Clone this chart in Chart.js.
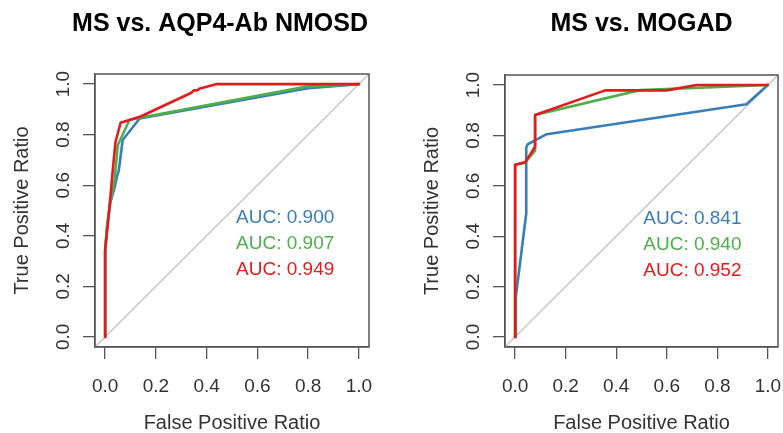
<!DOCTYPE html>
<html><head><meta charset="utf-8">
<script src="https://cdn.jsdelivr.net/npm/chart.js@4.4.1/dist/chart.umd.min.js"></script>
<style>
html,body{margin:0;padding:0;background:#fff;}
#wrap{position:relative;width:783px;height:433px;overflow:hidden;background:#fff;}
canvas{position:absolute;top:0;left:0;}
</style></head><body>
<div id="wrap">
<div style="position:absolute;left:0;top:0;width:440px;height:433px"><canvas id="a" width="440" height="433"></canvas></div>
<div style="position:absolute;left:392px;top:0;width:415px;height:433px"><canvas id="b" width="415" height="433"></canvas></div>
</div>
<script>
// ---- text ----
const panelTitles = ["MS vs. AQP4-Ab NMOSD", "MS vs. MOGAD"];
const xAxisTitle = "False Positive Ratio";
const yAxisTitle = "True Positive Ratio";
const tickValues = [0, 0.2, 0.4, 0.6, 0.8, 1.0];
const tickLabels = ["0.0", "0.2", "0.4", "0.6", "0.8", "1.0"];
const axisRange = [-0.04, 1.04];
const diagonalLine = [-0.04, 1.04];

// ---- series order: blue, green, red ----
const seriesColors = ["#377EB8", "#4DAF4A", "#E41A1C"];

// MS vs. AQP4-Ab NMOSD
const aqp4BlueFpr  = [0, 0, 0.008, 0.02, 0.037, 0.045, 0.054, 0.069, 0.136, 0.8, 1];
const aqp4BlueTpr  = [0, 0.34, 0.44, 0.53, 0.59, 0.627, 0.66, 0.779, 0.864, 0.984, 1];
const aqp4GreenFpr = [0, 0, 0.008, 0.02, 0.037, 0.05, 0.096, 0.142, 0.794, 1];
const aqp4GreenTpr = [0, 0.34, 0.44, 0.53, 0.62, 0.759, 0.858, 0.868, 0.99, 1];
const aqp4RedFpr   = [0, 0, 0.012, 0.024, 0.03, 0.041, 0.061, 0.142, 0.34, 0.35, 0.362, 0.374, 0.40, 0.44, 1];
const aqp4RedTpr   = [0, 0.344, 0.46, 0.59, 0.66, 0.772, 0.847, 0.873, 0.966, 0.976, 0.975, 0.983, 0.99, 1, 1];
const aqp4Auc = ["0.900", "0.907", "0.949"];

// MS vs. MOGAD
const mogBlueFpr  = [0, 0.003, 0.044, 0.044, 0.05, 0.125, 0.915, 1];
const mogBlueTpr  = [0, 0.16, 0.49, 0.752, 0.765, 0.805, 0.924, 1];
const mogGreenFpr = [0, 0, 0.04, 0.079, 0.079, 0.494, 1];
const mogGreenTpr = [0, 0.684, 0.693, 0.74, 0.881, 0.98, 1];
const mogRedFpr   = [0, 0, 0.04, 0.079, 0.079, 0.356, 0.6, 0.718, 1];
const mogRedTpr   = [0, 0.684, 0.693, 0.755, 0.881, 0.979, 0.979, 1, 1];
const mogAuc = ["0.841", "0.940", "0.952"];

const FONT = '"Liberation Sans", Arial, Helvetica, sans-serif';
Chart.defaults.font.family = FONT;

const pts = (xs, ys) => xs.map((x, i) => ({x: x, y: ys[i]}));

const boxPlugin = {
  id: 'rbox',
  afterDatasetsDraw(chart, args, opts) {
    const {ctx, chartArea: a} = chart;
    ctx.save();
    ctx.strokeStyle = '#555';
    ctx.lineWidth = 1.5;
    ctx.strokeRect(a.left, a.top, a.right - a.left, a.bottom - a.top);
    ctx.font = '19px ' + FONT;
    ctx.textBaseline = 'middle';
    ctx.textAlign = 'left';
    const x0 = chart.scales.x.getPixelForValue(opts.aucX);
    const y0 = chart.scales.y.getPixelForValue(opts.aucY);
    opts.labels.forEach((t, i) => {
      ctx.fillStyle = seriesColors[i];
      ctx.fillText('AUC: ' + t, x0, y0 + i * 26);
    });
    ctx.restore();
  }
};

function makePanel(canvasId, title, series, auc, cfg) {
  const datasets = [];
  for (let i = series.length - 1; i >= 0; i--) {
    datasets.push({
      data: pts(series[i][0], series[i][1]),
      borderColor: seriesColors[i],
      borderWidth: 2.6,
      pointRadius: 0,
      showLine: true,
      tension: 0,
      borderJoinStyle: 'round',
      borderCapStyle: 'round'
    });
  }
  datasets.push({
    data: pts(diagonalLine, diagonalLine),
    borderColor: '#c4c4c4',
    borderWidth: 1.4,
    pointRadius: 0,
    showLine: true
  });
  const axisCommon = {
    type: 'linear', min: axisRange[0], max: axisRange[1],
    afterBuildTicks: s => { s.ticks = tickValues.map(v => ({value: v})); },
    grid: {drawOnChartArea: false, drawTicks: true, tickLength: 12, color: '#555', lineWidth: 1.3},
    border: {display: true, color: '#555', width: 1.3}
  };
  const scales = {
    x: Object.assign({}, axisCommon, {
      position: 'bottom',
      afterFit: s => { s.height = 86; },
      ticks: {color: '#333', font: {size: 19}, padding: 16, maxRotation: 0, autoSkip: false,
              callback: (v, i) => tickLabels[i]},
      title: {display: true, text: xAxisTitle, color: '#333', font: {size: 20}, padding: {top: 0, bottom: -2}}
    }),
    y: Object.assign({}, axisCommon, {
      position: 'left',
      afterFit: s => { s.width = cfg.yWidth; },
      ticks: {color: '#333', font: {size: 19}, padding: 6, minRotation: 90, maxRotation: 90,
              crossAlign: 'center', autoSkip: false, callback: (v, i) => tickLabels[i]},
      title: {display: true, text: yAxisTitle, color: '#333', font: {size: 20}, padding: {top: cfg.yTitlePad, bottom: 0}}
    })
  };
  if (cfg.spacer) {
    // empty right-hand margin so the full-width title stays centred over the panel
    scales.margin = {
      type: 'linear', position: 'right', display: true,
      grid: {display: false}, border: {display: false}, ticks: {display: false},
      afterFit: s => { s.width = cfg.spacer; }
    };
  }
  new Chart(document.getElementById(canvasId), {
    type: 'scatter',
    data: {datasets: datasets},
    options: {
      responsive: false,
      animation: false,
      events: [],
      layout: {padding: {left: 0, right: cfg.padRight, top: 0, bottom: 0}},
      plugins: {
        legend: {display: false},
        tooltip: {enabled: false},
        title: {
          display: true, text: title, color: '#000', fullSize: cfg.fullSize,
          font: {size: 25, weight: 'bold', family: FONT},
          padding: {top: 9, bottom: cfg.titleBottom}
        },
        rbox: {labels: auc, aucX: cfg.aucX, aucY: 0.47}
      },
      scales: scales
    },
    plugins: [boxPlugin]
  });
}

makePanel('a', panelTitles[0],
  [[aqp4BlueFpr, aqp4BlueTpr], [aqp4GreenFpr, aqp4GreenTpr], [aqp4RedFpr, aqp4RedTpr]],
  aqp4Auc, {padRight: 0, spacer: 71, fullSize: true, titleBottom: 35, yWidth: 95, yTitlePad: 10, aucX: 0.516});
makePanel('b', panelTitles[1],
  [[mogBlueFpr, mogBlueTpr], [mogGreenFpr, mogGreenTpr], [mogRedFpr, mogRedTpr]],
  mogAuc, {padRight: 29, spacer: 0, fullSize: false, titleBottom: 36, yWidth: 113, yTitlePad: 28, aucX: 0.507});
</script>
</body></html>
